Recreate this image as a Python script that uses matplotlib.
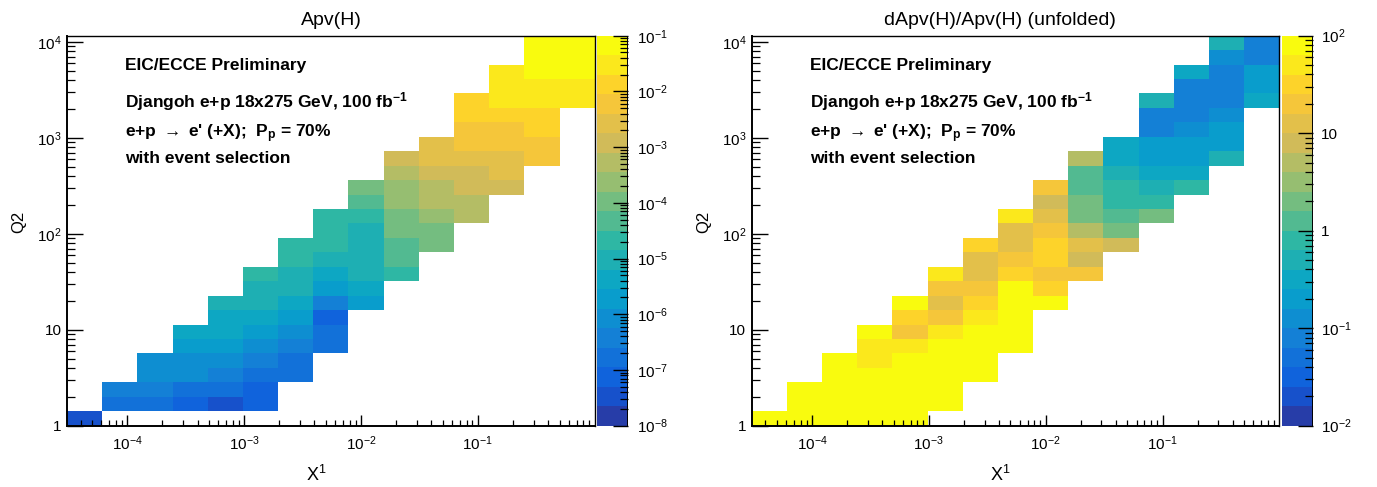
import numpy as np
import matplotlib
matplotlib.use("Agg")
import matplotlib.pyplot as plt
from matplotlib.colors import LinearSegmentedColormap, ListedColormap, LogNorm
from matplotlib.ticker import LogLocator, FixedLocator, FuncFormatter, NullFormatter

plt.rcParams["font.family"] = ["Liberation Sans", "DejaVu Sans"]
plt.rcParams["mathtext.fontset"] = "custom"
plt.rcParams["mathtext.rm"] = "Liberation Sans"
plt.rcParams["mathtext.bf"] = "Liberation Sans:bold"
plt.rcParams["mathtext.it"] = "Liberation Sans:italic"
plt.rcParams["mathtext.sf"] = "Liberation Sans"

# histogram binning (x: factor 2 bins, Q2: factor sqrt(2) bins)
x_edges = [3.0518e-5, 6.1035e-5, 1.2207e-4, 2.4414e-4, 4.8828e-4, 9.7656e-4,
           1.9531e-3, 3.9063e-3, 7.8125e-3, 0.015625, 0.03125, 0.0625,
           0.125, 0.25, 0.5, 1.0]
q2_edges = [1.0, 1.414, 2.0, 2.828, 4.0, 5.657, 8.0, 11.31, 16.0, 22.63,
            32.0, 45.25, 64.0, 90.51, 128.0, 181.0, 256.0, 362.0, 512.0,
            724.1, 1024.0, 1448.0, 2048.0, 2896.0, 4096.0, 5793.0, 8192.0,
            11585.0]

# log10 of cell contents, one entry per Q2 row: (first filled x bin, values)
apv_log10 = [
    (0, [-7.5]),
    (1, [-6.8, -6.8, -7.1, -7.5, -7.1]),
    (1, [-6.4, -6.4, -6.8, -6.8, -7.1]),
    (2, [-6.1, -6.1, -6.4, -6.8, -6.8]),
    (2, [-6.1, -6.1, -6.1, -6.4, -6.8]),
    (3, [-5.7, -5.7, -6.1, -6.4, -6.8]),
    (3, [-5.4, -5.4, -5.7, -6.1, -6.8]),
    (4, [-5.4, -5.4, -5.7, -7.1]),
    (4, [-5.0, -5.0, -5.4, -6.4, -5.7]),
    (5, [-5.0, -5.0, -5.7, -5.4]),
    (5, [-4.7, -5.0, -5.4, -5.0, -4.7]),
    (6, [-4.7, -5.0, -5.0, -4.3]),
    (6, [-4.7, -4.7, -5.0, -4.3, -4.0]),
    (7, [-4.7, -5.0, -4.0, -4.0]),
    (7, [-4.7, -4.7, -4.0, -3.6, -3.3]),
    (8, [-4.3, -3.6, -3.3, -3.3]),
    (8, [-4.0, -3.6, -3.3, -2.9, -2.9]),
    (9, [-3.3, -2.9, -2.9, -2.6]),
    (9, [-2.9, -2.6, -2.6, -2.6, -2.2]),
    (10, [-2.6, -2.2, -2.2, -2.2]),
    (11, [-2.2, -2.2, -1.9]),
    (11, [-1.9, -1.9, -1.9]),
    (11, [-1.9, -1.5, -1.5, -1.5]),
    (12, [-1.5, -1.5, -1.5]),
    (12, [-1.5, -1.2, -1.2]),
    (13, [-1.2, -1.2]),
    (13, [-1.2, -1.2]),
]

dapv_log10 = [
    (0, [1.9, 1.9, 1.9, 1.9, 1.9]),
    (1, [1.9, 1.9, 1.9, 1.9, 1.9]),
    (1, [1.9, 1.9, 1.9, 1.9, 1.9]),
    (2, [1.9, 1.9, 1.9, 1.9, 1.9]),
    (2, [1.9, 1.7, 1.9, 1.9, 1.9]),
    (3, [1.7, 1.7, 1.9, 1.9, 1.9]),
    (3, [1.9, 1.3, 1.7, 1.9, 1.9]),
    (4, [1.5, 1.3, 1.7, 1.9]),
    (4, [1.9, 1.1, 1.5, 1.9, 1.9]),
    (5, [1.3, 1.3, 1.9, 1.5]),
    (5, [1.7, 1.1, 1.5, 1.3, 1.3]),
    (6, [1.1, 1.3, 1.5, 0.9]),
    (6, [1.5, 1.1, 1.5, 1.1, 0.9]),
    (7, [1.1, 1.3, 0.7, 0.3]),
    (7, [1.7, 1.1, 0.3, 0.1, 0.3]),
    (8, [0.9, 0.3, -0.1, -0.1]),
    (8, [1.3, 0.1, -0.1, -0.3, -0.1]),
    (9, [0.1, -0.3, -0.5, -0.5]),
    (9, [0.7, -0.5, -0.7, -0.7, -0.3]),
    (10, [-0.5, -0.7, -0.7, -0.7]),
    (11, [-1.1, -0.9, -0.7]),
    (11, [-1.1, -1.1, -0.9]),
    (11, [-0.3, -1.1, -1.1, -0.5]),
    (12, [-1.1, -1.1, -0.7]),
    (12, [-0.5, -1.1, -0.7]),
    (13, [-0.9, -1.1]),
    (13, [-0.3, -1.1]),
]

W, H = 1377, 487

# ROOT kBird palette, 20 contour levels
stops = [0.0, 0.125, 0.25, 0.375, 0.5, 0.625, 0.75, 0.875, 1.0]
red = [0.2082, 0.0592, 0.0780, 0.0232, 0.1802, 0.5301, 0.8186, 0.9956, 0.9764]
green = [0.1664, 0.3599, 0.5041, 0.6419, 0.7178, 0.7492, 0.7328, 0.7862, 0.9832]
blue = [0.5293, 0.8684, 0.8385, 0.7914, 0.6425, 0.4662, 0.3499, 0.1968, 0.0539]
bird = LinearSegmentedColormap.from_list(
    "bird", list(zip(stops, zip(red, green, blue))), N=255)
cmap = ListedColormap([bird(int((k + 0.99) * 255 / 20) / 254) for k in range(20)])


def grid(rows):
    z = np.full((len(q2_edges) - 1, len(x_edges) - 1), np.nan)
    for j, (first, vals) in enumerate(rows):
        z[j, first:first + len(vals)] = 10.0 ** np.array(vals)
    return np.ma.masked_invalid(z)


def root_label(v, pos):
    e = int(round(np.log10(v)))
    if e == 0:
        return "1"
    if e == 1:
        return "10"
    return "$10^{%d}$" % e


def px(x0, y0, w, h):
    return [x0 / W, 1 - (y0 + h) / H, w / W, h / H]


def panel(x0, rows, vmin, vmax, title, title_x):
    ax = fig.add_axes(px(x0, 35.7, 527.7, 390))
    cax = fig.add_axes(px(x0 + 530.3, 35.7, 31, 390))

    pcm = ax.pcolormesh(x_edges, q2_edges, grid(rows), cmap=cmap,
                        norm=LogNorm(vmin=vmin, vmax=vmax), shading="flat")
    ax.set_xscale("log")
    ax.set_yscale("log")
    ax.set_xlim(x_edges[0], x_edges[-1])
    ax.set_ylim(q2_edges[0], q2_edges[-1])

    ax.xaxis.set_major_locator(FixedLocator([1e-4, 1e-3, 1e-2, 1e-1]))
    ax.xaxis.set_minor_locator(LogLocator(base=10, subs=np.arange(2, 10), numticks=20))
    ax.yaxis.set_major_locator(LogLocator(base=10, numticks=10))
    ax.yaxis.set_minor_locator(LogLocator(base=10, subs=np.arange(2, 10), numticks=20))
    ax.xaxis.set_major_formatter(FuncFormatter(root_label))
    ax.yaxis.set_major_formatter(FuncFormatter(root_label))
    ax.xaxis.set_minor_formatter(NullFormatter())
    ax.yaxis.set_minor_formatter(NullFormatter())

    ax.tick_params(which="both", direction="in", top=False, right=False,
                   labelsize=11, color="black")
    ax.tick_params(axis="x", which="major", length=8, width=1.0, pad=6)
    ax.tick_params(axis="x", which="minor", length=4, width=0.9)
    ax.tick_params(axis="y", which="major", length=11.5, width=1.0, pad=4)
    ax.tick_params(axis="y", which="minor", length=5.5, width=0.9)
    for s in ax.spines.values():
        s.set_linewidth(1.0)
    ax.spines["left"].set_linewidth(1.4)
    ax.spines["bottom"].set_linewidth(1.4)

    cb = fig.colorbar(pcm, cax=cax)
    cb.outline.set_visible(False)
    cax.axvline(1, color="black", lw=1.4)
    cax.yaxis.set_major_locator(LogLocator(base=10, numticks=12))
    cax.yaxis.set_minor_locator(LogLocator(base=10, subs=np.arange(2, 10), numticks=20))
    cax.yaxis.set_major_formatter(FuncFormatter(root_label))
    cax.yaxis.set_minor_formatter(NullFormatter())
    cax.tick_params(which="both", direction="in", labelsize=11, color="black")
    cax.tick_params(which="major", length=11, width=1.0, pad=6)
    cax.tick_params(which="minor", length=5.5, width=0.9)

    fig.text(title_x / W, 1 - 25 / H, title, ha="center", va="baseline", fontsize=14)
    fig.text((x0 - 48) / W, 1 - 222 / H, "Q2", rotation=90,
             ha="center", va="center", fontsize=12)
    fig.text((x0 + 249) / W, 1 - 481 / H, "X$^{1}$", ha="center",
             va="baseline", fontsize=13)

    tx = (x0 + 58) / W
    fig.text(tx, 1 - 70 / H, "EIC/ECCE Preliminary", fontsize=12.5,
             fontweight="bold", va="baseline")
    fig.text(tx, 1 - 107 / H, r"Djangoh e+p 18x275 GeV, 100 fb$^{\mathbf{-1}}$",
             fontsize=12.5, fontweight="bold", va="baseline")
    fig.text(tx, 1 - 137 / H, r"e+p $\rightarrow$ e' (+X);  P$_{\mathbf{p}}$ = 70%",
             fontsize=12.5, fontweight="bold", va="baseline")
    fig.text(tx, 1 - 163 / H, "with event selection", fontsize=12.5,
             fontweight="bold", va="baseline")
    return ax


fig = plt.figure(figsize=(W / 100, H / 100), dpi=100)
panel(67.0, apv_log10, 1e-8, 1e-1, "Apv(H)", 331)
panel(751.7, dapv_log10, 1e-2, 1e2, "dApv(H)/Apv(H) (unfolded)", 1000)

fig.savefig("out.png", dpi=100)
